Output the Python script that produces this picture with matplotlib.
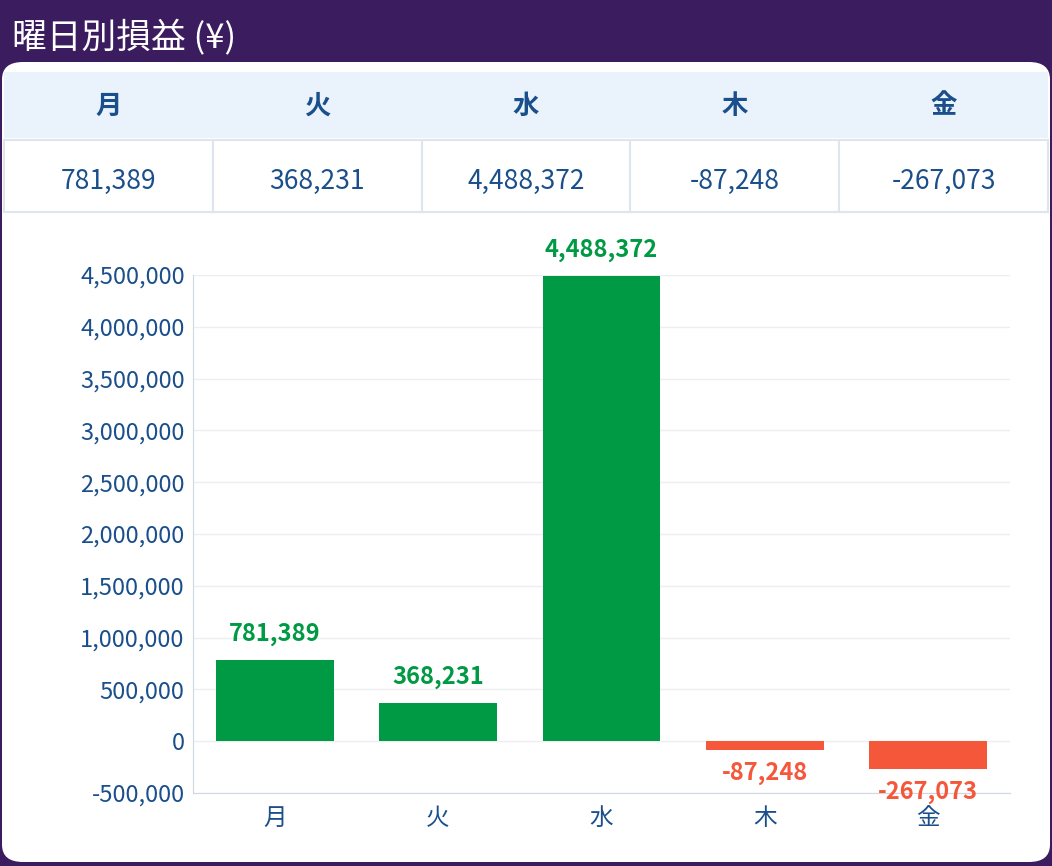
import matplotlib
matplotlib.use("Agg")
import matplotlib.pyplot as plt
from matplotlib.patches import FancyBboxPatch, Rectangle
from matplotlib.ticker import FuncFormatter

plt.rcParams['font.family'] = ['Noto Sans CJK JP', 'DejaVu Sans']

days = ["月", "火", "水", "木", "金"]
pnl = [781389, 368231, 4488372, -87248, -267073]

W, H = 1052, 866
BLUE = "#1a4f8b"
GREEN = "#009a44"
RED = "#f5573b"

fig = plt.figure(figsize=(W / 100, H / 100), dpi=100, facecolor="#3b1c5e")

def fx(x): return x / W
def fy(y): return 1 - y / H

# white card
fig.patches.append(FancyBboxPatch((fx(2), fy(862)), fx(1048), (862 - 62) / H,
                                  boxstyle="round,pad=0,rounding_size=0.02",
                                  transform=fig.transFigure, facecolor="white",
                                  edgecolor="none", zorder=0))
fig.text(fx(12), fy(38), "曜日別損益 (¥)", color="white", fontsize=25,
         va="center", ha="left")

# summary table
col_w = (1048 - 4) / 5
fig.patches.append(Rectangle((fx(4), fy(138)), fx(1044), (138 - 72) / H,
                             transform=fig.transFigure, facecolor="#eaf3fb",
                             edgecolor="none", zorder=1))
for i, (d, v) in enumerate(zip(days, pnl)):
    x0 = 4 + i * col_w
    fig.patches.append(Rectangle((fx(x0), fy(212)), fx(col_w), (212 - 140) / H,
                                 transform=fig.transFigure, facecolor="white",
                                 edgecolor="#dde6ee", lw=1.5, zorder=2))
    fig.text(fx(x0 + col_w / 2), fy(106), d, color=BLUE, fontsize=19,
             fontweight="bold", ha="center", va="center", zorder=3)
    fig.text(fx(x0 + col_w / 2), fy(181), f"{v:,}", color=BLUE, fontsize=19,
             ha="center", va="center", zorder=3)

# bar chart
ax = fig.add_axes([fx(193), fy(793), fx(1010 - 193), (793 - 275) / H])
ax.set_zorder(5)
ax.set_facecolor("none")
colors = [GREEN if v >= 0 else RED for v in pnl]
ax.bar(range(len(days)), pnl, width=0.72, color=colors, zorder=2)
ax.set_xlim(-0.5, len(days) - 0.5)
ax.set_ylim(-500000, 4500000)
ax.set_yticks(range(-500000, 4500001, 500000))
ax.yaxis.set_major_formatter(FuncFormatter(lambda v, p: f"{int(v):,}"))
ax.set_xticks(range(len(days)))
ax.set_xticklabels(days)
ax.tick_params(colors=BLUE, labelsize=17, length=0, pad=6)
ax.tick_params(axis="x", pad=10)
ax.grid(axis="y", color="#eceff2", lw=1, zorder=0)
for s in ["top", "right"]:
    ax.spines[s].set_visible(False)
for s in ["left", "bottom"]:
    ax.spines[s].set_color("#cfd8e0")

for i, v in enumerate(pnl):
    if v >= 0:
        ax.annotate(f"{v:,}", (i, v), xytext=(0, 10), textcoords="offset points",
                    ha="center", va="bottom", color=GREEN, fontsize=17,
                    fontweight="bold")
    else:
        ax.annotate(f"{v:,}", (i, v), xytext=(0, -8), textcoords="offset points",
                    ha="center", va="top", color=RED, fontsize=17,
                    fontweight="bold")

fig.savefig("out.png", dpi=100, facecolor=fig.get_facecolor())
